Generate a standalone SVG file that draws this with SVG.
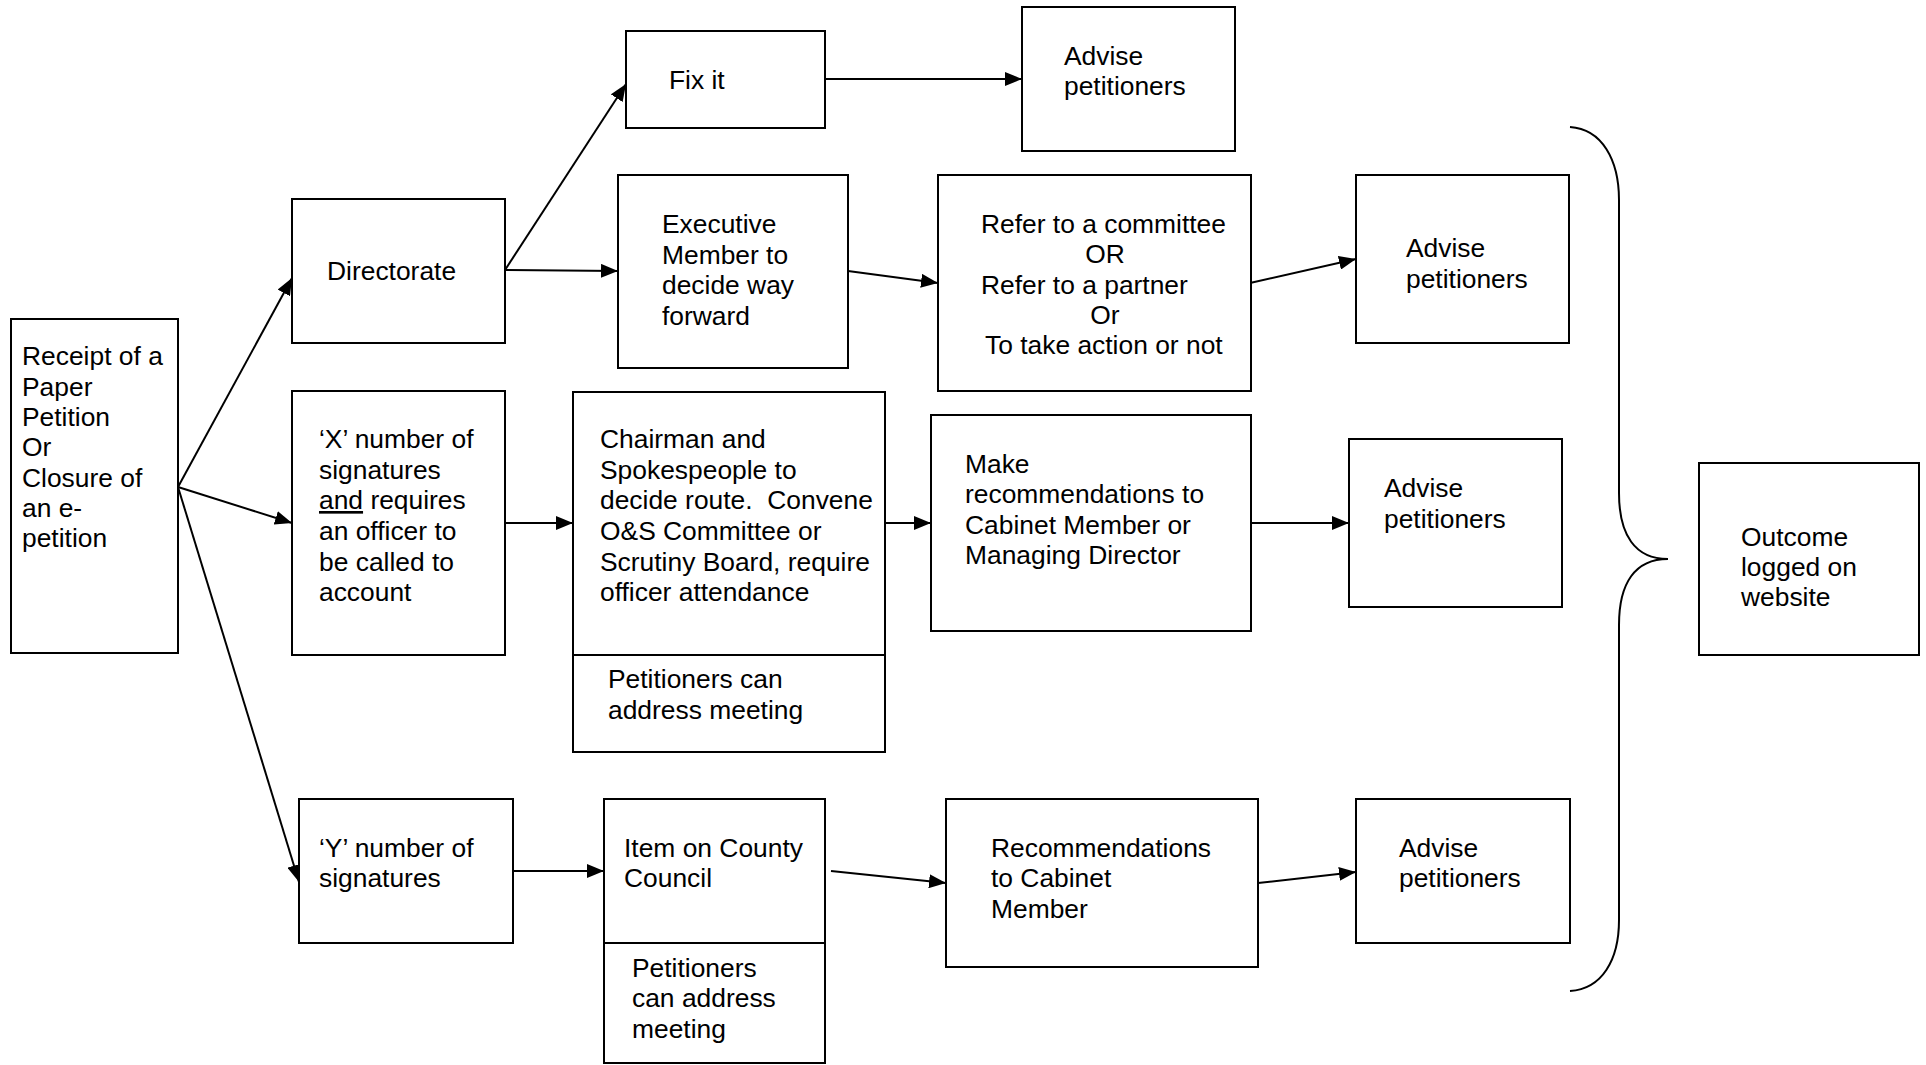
<svg xmlns="http://www.w3.org/2000/svg" width="1926" height="1065" viewBox="0 0 1926 1065">
<style>
.box{fill:#fff;stroke:#000;stroke-width:2}
.t{font-family:"Liberation Sans",Arial,sans-serif;font-size:26.4px;fill:#000}
.c{fill:none;stroke:#000;stroke-width:2}
</style>
<defs>
<marker id="ah" markerUnits="userSpaceOnUse" markerWidth="18" markerHeight="14" refX="17" refY="7" orient="auto">
<path d="M0,0 L17,7 L0,14 z" fill="#000"/>
</marker>
</defs>
<rect width="1926" height="1065" fill="#fff"/>
<g id="connectors">
<line class="c" x1="178" y1="487" x2="292" y2="278" marker-end="url(#ah)"/>
<line class="c" x1="178" y1="487" x2="292" y2="523" marker-end="url(#ah)"/>
<line class="c" x1="178" y1="487" x2="299" y2="882" marker-end="url(#ah)"/>
<line class="c" x1="505" y1="270" x2="626" y2="84" marker-end="url(#ah)"/>
<line class="c" x1="505" y1="270" x2="618" y2="271" marker-end="url(#ah)"/>
<line class="c" x1="825" y1="79" x2="1022" y2="79" marker-end="url(#ah)"/>
<line class="c" x1="848" y1="271" x2="938" y2="283" marker-end="url(#ah)"/>
<line class="c" x1="1250" y1="283" x2="1356" y2="259" marker-end="url(#ah)"/>
<line class="c" x1="505" y1="523" x2="573" y2="523" marker-end="url(#ah)"/>
<line class="c" x1="885" y1="523" x2="931" y2="523" marker-end="url(#ah)"/>
<line class="c" x1="1251" y1="523" x2="1349" y2="523" marker-end="url(#ah)"/>
<line class="c" x1="513" y1="871" x2="604" y2="871" marker-end="url(#ah)"/>
<line class="c" x1="831" y1="871" x2="946" y2="883" marker-end="url(#ah)"/>
<line class="c" x1="1258" y1="883" x2="1356" y2="872" marker-end="url(#ah)"/>
<path class="c" d="M1570,127 C1602,129 1619,160 1619,200 L1619,493 C1619,535 1635,559 1668,559 C1635,559 1619,583 1619,625 L1619,920 C1619,960 1602,989 1570,991"/>
</g>
<g id="receipt">
<rect class="box" x="11" y="319" width="167" height="334"/>
<text class="t"><tspan x="22" y="365">Receipt of a</tspan><tspan x="22" y="395.5">Paper</tspan><tspan x="22" y="426">Petition</tspan><tspan x="22" y="456">Or</tspan><tspan x="22" y="486.5">Closure of</tspan><tspan x="22" y="517">an e-</tspan><tspan x="22" y="547">petition</tspan></text>
</g>
<g id="directorate">
<rect class="box" x="292" y="199" width="213" height="144"/>
<text class="t" x="327" y="280">Directorate</text>
</g>
<g id="fixit">
<rect class="box" x="626" y="31" width="199" height="97"/>
<text class="t" x="669" y="89">Fix it</text>
</g>
<g id="advise1">
<rect class="box" x="1022" y="7" width="213" height="144"/>
<text class="t"><tspan x="1064" y="65">Advise</tspan><tspan x="1064" y="95">petitioners</tspan></text>
</g>
<g id="executive">
<rect class="box" x="618" y="175" width="230" height="193"/>
<text class="t"><tspan x="662" y="233">Executive</tspan><tspan x="662" y="263.5">Member to</tspan><tspan x="662" y="294">decide way</tspan><tspan x="662" y="324.5">forward</tspan></text>
</g>
<g id="refer">
<rect class="box" x="938" y="175" width="313" height="216"/>
<text class="t"><tspan x="981" y="233">Refer to a committee</tspan><tspan x="1105" y="263" text-anchor="middle">OR</tspan><tspan x="981" y="294">Refer to a partner</tspan><tspan x="1105" y="324" text-anchor="middle">Or</tspan><tspan x="985" y="354">To take action or not</tspan></text>
</g>
<g id="advise2">
<rect class="box" x="1356" y="175" width="213" height="168"/>
<text class="t"><tspan x="1406" y="257">Advise</tspan><tspan x="1406" y="287.5">petitioners</tspan></text>
</g>
<g id="xnumber">
<rect class="box" x="292" y="391" width="213" height="264"/>
<text class="t"><tspan x="319" y="448">‘X’ number of</tspan><tspan x="319" y="478.5">signatures</tspan><tspan x="319" y="509"><tspan text-decoration="underline">and</tspan> requires</tspan><tspan x="319" y="540">an officer to</tspan><tspan x="319" y="570.5">be called to</tspan><tspan x="319" y="601">account</tspan></text>
</g>
<g id="chairman">
<rect class="box" x="573" y="392" width="312" height="360"/>
<line class="c" x1="573" y1="655" x2="885" y2="655"/>
<text class="t" xml:space="preserve"><tspan x="600" y="448">Chairman and</tspan><tspan x="600" y="478.5">Spokespeople to</tspan><tspan x="600" y="509">decide route.  Convene</tspan><tspan x="600" y="540">O&amp;S Committee or</tspan><tspan x="600" y="570.5">Scrutiny Board, require</tspan><tspan x="600" y="601">officer attendance</tspan></text>
<text class="t"><tspan x="608" y="688">Petitioners can</tspan><tspan x="608" y="719">address meeting</tspan></text>
</g>
<g id="make">
<rect class="box" x="931" y="415" width="320" height="216"/>
<text class="t"><tspan x="965" y="473">Make</tspan><tspan x="965" y="503">recommendations to</tspan><tspan x="965" y="534">Cabinet Member or</tspan><tspan x="965" y="564">Managing Director</tspan></text>
</g>
<g id="advise3">
<rect class="box" x="1349" y="439" width="213" height="168"/>
<text class="t"><tspan x="1384" y="497">Advise</tspan><tspan x="1384" y="527.5">petitioners</tspan></text>
</g>
<g id="outcome">
<rect class="box" x="1699" y="463" width="220" height="192"/>
<text class="t"><tspan x="1741" y="546">Outcome</tspan><tspan x="1741" y="576">logged on</tspan><tspan x="1741" y="606">website</tspan></text>
</g>
<g id="ynumber">
<rect class="box" x="299" y="799" width="214" height="144"/>
<text class="t"><tspan x="319" y="857">‘Y’ number of</tspan><tspan x="319" y="887">signatures</tspan></text>
</g>
<g id="item">
<rect class="box" x="604" y="799" width="221" height="264"/>
<line class="c" x1="604" y1="943" x2="825" y2="943"/>
<text class="t"><tspan x="624" y="857">Item on County</tspan><tspan x="624" y="887">Council</tspan></text>
<text class="t"><tspan x="632" y="977">Petitioners</tspan><tspan x="632" y="1007">can address</tspan><tspan x="632" y="1038">meeting</tspan></text>
</g>
<g id="recommendations">
<rect class="box" x="946" y="799" width="312" height="168"/>
<text class="t"><tspan x="991" y="857">Recommendations</tspan><tspan x="991" y="887">to Cabinet</tspan><tspan x="991" y="918">Member</tspan></text>
</g>
<g id="advise4">
<rect class="box" x="1356" y="799" width="214" height="144"/>
<text class="t"><tspan x="1399" y="857">Advise</tspan><tspan x="1399" y="887">petitioners</tspan></text>
</g>
</svg>
